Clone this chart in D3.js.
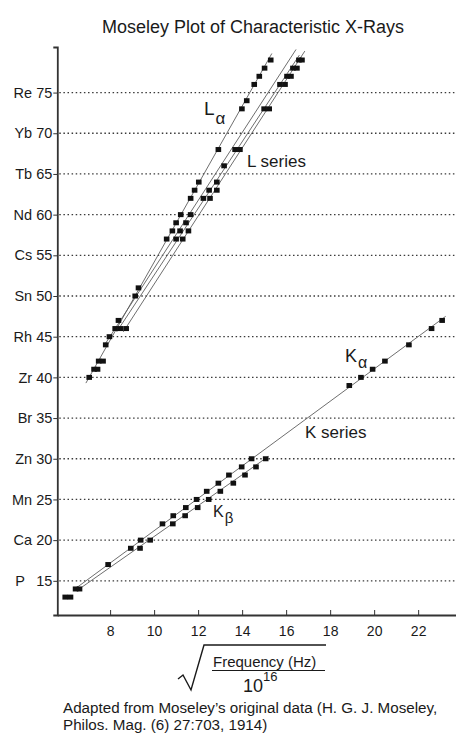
<!DOCTYPE html>
<html>
<head>
<meta charset="utf-8">
<script src="https://cdn.jsdelivr.net/npm/d3@7"></script>
<style>
  body { margin: 0; background: #fff; }
  svg { font-family: "Liberation Sans", Arial, Helvetica, sans-serif; }
  .grid line { stroke: #3a3a3a; stroke-width: 1.3; stroke-dasharray: 1.5 2.6; }
  .axis path, .axis line { stroke: #333; }
  .axis text { font-size: 14px; fill: #1a1a1a; }
  .fit { fill: none; stroke: #5e5e5e; stroke-width: 0.9; }
</style>
</head>
<body>
<div id="chart"></div>
<script>
// Moseley plot: sqrt(frequency / 1e16) against atomic number Z

// y tick labels (element + Z)
const zTicks = [15, 20, 25, 30, 35, 40, 45, 50, 55, 60, 65, 70, 75];
const zSymbols = ["P", "Ca", "Mn", "Zn", "Br", "Zr", "Rh", "Sn", "Cs", "Nd", "Tb", "Yb", "Re"];
const xTicks = [8, 10, 12, 14, 16, 18, 20, 22];

// K series points [sqrt(f/1e16), Z]
const kAlpha = [
  [5.96, 13], [6.43, 14], [7.91, 17], [8.94, 19], [9.39, 20], [10.38, 22], [10.87, 23],
  [11.44, 24], [11.93, 25], [12.39, 26], [12.92, 27], [13.40, 28], [13.98, 29], [14.43, 30],
  [18.87, 39], [19.40, 40], [19.93, 41], [20.49, 42], [21.58, 44], [22.61, 46], [23.09, 47]
];
const kBeta = [
  [6.20, 13], [6.61, 14], [9.36, 19], [9.82, 20], [10.85, 22], [11.41, 23], [11.98, 24],
  [12.48, 25], [13.01, 26], [13.60, 27], [14.13, 28], [14.63, 29], [15.07, 30]
];

// L series points
const lAlpha = [
  [7.05, 40], [7.27, 41], [7.48, 42], [7.80, 44], [7.97, 45], [8.23, 46], [8.38, 47],
  [9.14, 50], [9.29, 51], [10.57, 57], [10.83, 58], [11.00, 59], [11.21, 60], [11.66, 62],
  [11.84, 63], [12.03, 64], [12.92, 68], [13.99, 73], [14.21, 74], [14.55, 76], [14.78, 77],
  [15.02, 78], [15.30, 79]
];
const lOther = [
  [7.43, 41], [7.68, 42], [8.48, 46], [8.73, 46], [11.00, 57], [11.30, 57], [11.18, 58],
  [11.56, 58], [11.45, 59], [11.66, 60], [12.24, 62], [12.54, 62], [12.50, 63], [12.85, 63],
  [12.85, 64], [13.18, 66], [13.68, 68], [13.90, 68], [15.00, 73], [15.23, 73], [15.72, 76],
  [15.95, 76], [16.04, 77], [16.22, 77], [16.31, 78], [16.49, 78], [16.58, 79], [16.72, 79]
];

// straight fit lines, each [x1, z1, x2, z2]
const fitLines = [
  [6.40, 14.0, 23.25, 47.5],   // K alpha
  [6.60, 14.0, 15.20, 30.3],   // K beta
  [6.90, 39.3, 15.35, 79.8],   // L alpha
  [7.75, 44.0, 16.45, 80.3],
  [8.30, 45.6, 16.60, 79.6],
  [8.60, 45.6, 16.85, 80.1]
];

const width = 456, height = 733;
const svg = d3.select("#chart").append("svg")
    .attr("width", width)
    .attr("height", height);

const x = d3.scaleLinear().domain([5.6, 23.72]).range([57.3, 456]);
const y = d3.scaleLinear().domain([10.8, 80.6]).range([615, 47]);

// title
svg.append("text")
    .attr("x", 253).attr("y", 33)
    .attr("text-anchor", "middle")
    .style("font-size", "18px").style("fill", "#1a1a1a")
    .text("Moseley Plot of Characteristic X-Rays");

// dotted grid lines
svg.append("g").attr("class", "grid")
  .selectAll("line").data(zTicks).join("line")
    .attr("x1", x(5.6) + 2).attr("x2", width)
    .attr("y1", d => y(d)).attr("y2", d => y(d));

// fit lines
svg.append("g").selectAll("line").data(fitLines).join("line")
    .attr("class", "fit")
    .attr("x1", d => x(d[0])).attr("y1", d => y(d[1]))
    .attr("x2", d => x(d[2])).attr("y2", d => y(d[3]));

// markers
const allPoints = [].concat(kAlpha, kBeta, lAlpha, lOther);
svg.append("g").selectAll("rect").data(allPoints).join("rect")
    .attr("x", d => x(d[0]) - 2.8)
    .attr("y", d => y(d[1]) - 2.5)
    .attr("width", 5.6)
    .attr("height", 5)
    .attr("fill", "#111");

// axes
const yAxis = d3.axisLeft(y)
    .tickValues(zTicks)
    .tickSize(4)
    .tickPadding(1)
    .tickFormat((d, i) => zSymbols[i] + (zSymbols[i] === "P" ? "\u2002 " : " ") + d);
svg.append("g").attr("class", "axis")
    .attr("transform", `translate(${x(5.6)},0)`)
    .call(yAxis)
    .call(g => g.select(".domain").attr("stroke-width", 1.8))
    .call(g => g.selectAll("text").style("white-space", "pre").style("font-size", "14.5px"));

const xAxis = d3.axisBottom(x)
    .tickValues(xTicks)
    .tickSizeInner(-5)
    .tickSizeOuter(0)
    .tickPadding(11);
svg.append("g").attr("class", "axis")
    .attr("transform", `translate(0,${y(10.8)})`)
    .call(xAxis)
    .call(g => g.select(".domain").attr("stroke-width", 1.8));

// in-plot labels
function label(px, py, main, sub, size, subSize, subDy) {
  const t = svg.append("text")
      .attr("x", px).attr("y", py)
      .style("font-size", size + "px").style("fill", "#1a1a1a");
  t.append("tspan").text(main);
  if (sub) {
    t.append("tspan").attr("dy", subDy).attr("dx", 1)
        .style("font-size", subSize + "px").text(sub);
  }
}
label(204, 115, "L", "\u03b1", 19, 17, 9);
label(247, 166.5, "L series", null, 17);
label(345, 361.5, "K", "\u03b1", 18, 16, 6);
label(305, 438, "K series", null, 17);
label(213, 516.5, "K", "\u03b2", 16, 15, 6);

// x axis title: sqrt(Frequency (Hz) / 10^16)
svg.append("path")
    .attr("d", "M178,679 L183,675 L191,690 L204,645 L326,645")
    .attr("fill", "none").attr("stroke", "#1a1a1a").attr("stroke-width", 1.4);
svg.append("line")
    .attr("x1", 212).attr("x2", 325).attr("y1", 670.5).attr("y2", 670.5)
    .attr("stroke", "#1a1a1a").attr("stroke-width", 1.1);
svg.append("text")
    .attr("x", 213).attr("y", 666.5)
    .style("font-size", "15px").style("fill", "#1a1a1a")
    .text("Frequency (Hz)");
const pow = svg.append("text")
    .attr("x", 243).attr("y", 691.5)
    .style("font-size", "18px").style("fill", "#1a1a1a");
pow.append("tspan").text("10");
pow.append("tspan").attr("dy", -11).style("font-size", "13px").text("16");

// source note
svg.append("text")
    .attr("x", 63).attr("y", 712.5)
    .style("font-size", "15.2px").style("fill", "#1a1a1a")
    .text("Adapted from Moseley\u2019s original data (H. G. J. Moseley,");
svg.append("text")
    .attr("x", 63).attr("y", 729.5)
    .style("font-size", "15.2px").style("fill", "#1a1a1a")
    .text("Philos. Mag. (6) 27:703, 1914)");
</script>
</body>
</html>
